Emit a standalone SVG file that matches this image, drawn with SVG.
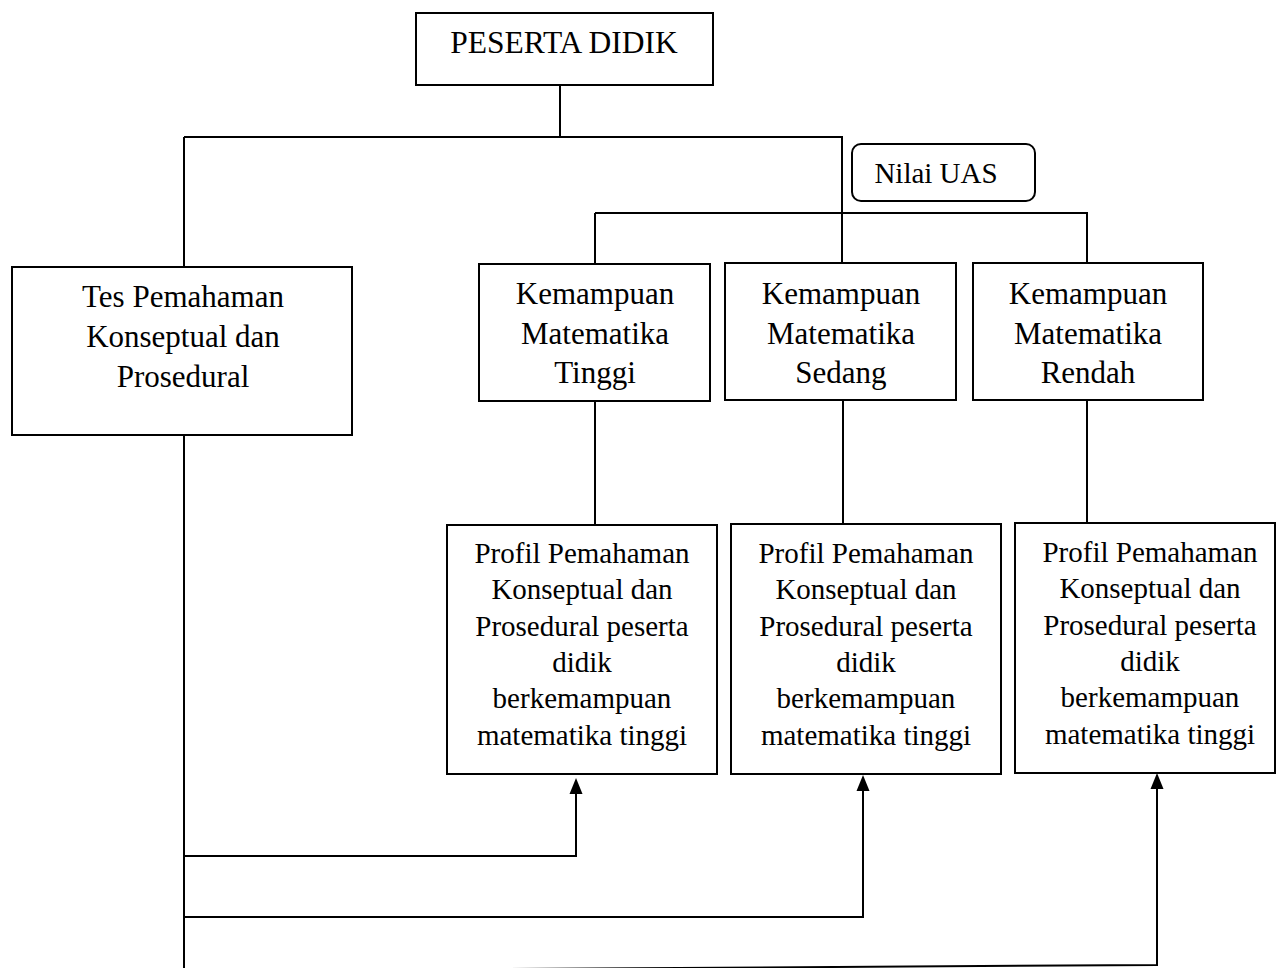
<svg xmlns="http://www.w3.org/2000/svg" width="1276" height="968" viewBox="0 0 1276 968">
<defs>
<style>
.box{fill:#fff;stroke:#000;stroke-width:2}
.ln{fill:none;stroke:#000;stroke-width:2}
text{font-family:"Liberation Serif","Times New Roman",serif;fill:#000;text-anchor:middle}
.t1{font-size:31px}
.t2{font-size:29px}
</style>
<marker id="ah" markerUnits="userSpaceOnUse" markerWidth="16" markerHeight="14" refX="0" refY="6.5" orient="auto" viewBox="0 0 16 13">
<path d="M0,0 L16,6.5 L0,13 z" fill="#000"/>
</marker>
</defs>
<rect width="1276" height="968" fill="#fff"/>
<g id="connectors">
<path class="ln" d="M560,85 V137"/>
<path class="ln" d="M184,137 H842 V262"/>
<path class="ln" d="M184,137 V267"/>
<path class="ln" d="M595,213 H1087 V263"/>
<path class="ln" d="M595,213 V264"/>
<path class="ln" d="M595,401 V525"/>
<path class="ln" d="M843,400 V524"/>
<path class="ln" d="M1087,400 V523"/>
<path class="ln" d="M184,435 V968"/>
<path class="ln" d="M184,856 H576 V794" marker-end="url(#ah)"/>
<path class="ln" d="M184,917 H863 V791" marker-end="url(#ah)"/>
<path class="ln" d="M184,971 L1157,965 V789" marker-end="url(#ah)"/>
</g>
<g id="peserta">
<rect class="box" x="416" y="13" width="297" height="72"/>
<text class="t1" x="564" y="53" style="font-size:31.5px">PESERTA DIDIK</text>
</g>
<g id="nilai-uas">
<rect class="box" x="852" y="144" width="183" height="57" rx="9"/>
<text class="t2" x="936" y="183">Nilai UAS</text>
</g>
<g id="tes">
<rect class="box" x="12" y="267" width="340" height="168"/>
<text class="t1" x="183" y="307">Tes Pemahaman</text>
<text class="t1" x="183" y="347">Konseptual dan</text>
<text class="t1" x="183" y="387">Prosedural</text>
</g>
<g id="km-tinggi">
<rect class="box" x="479" y="264" width="231" height="137"/>
<text class="t1" x="595" y="304">Kemampuan</text>
<text class="t1" x="595" y="344">Matematika</text>
<text class="t1" x="595" y="383">Tinggi</text>
</g>
<g id="km-sedang">
<rect class="box" x="725" y="263" width="231" height="137"/>
<text class="t1" x="841" y="304">Kemampuan</text>
<text class="t1" x="841" y="344">Matematika</text>
<text class="t1" x="841" y="383">Sedang</text>
</g>
<g id="km-rendah">
<rect class="box" x="973" y="263" width="230" height="137"/>
<text class="t1" x="1088" y="304">Kemampuan</text>
<text class="t1" x="1088" y="344">Matematika</text>
<text class="t1" x="1088" y="383">Rendah</text>
</g>
<g id="profil-tinggi">
<rect class="box" x="447" y="525" width="270" height="249"/>
<text class="t2" x="582" y="563">Profil Pemahaman</text>
<text class="t2" x="582" y="599">Konseptual dan</text>
<text class="t2" x="582" y="636">Prosedural peserta</text>
<text class="t2" x="582" y="672">didik</text>
<text class="t2" x="582" y="708">berkemampuan</text>
<text class="t2" x="582" y="745">matematika tinggi</text>
</g>
<g id="profil-sedang">
<rect class="box" x="731" y="524" width="270" height="250"/>
<text class="t2" x="866" y="563">Profil Pemahaman</text>
<text class="t2" x="866" y="599">Konseptual dan</text>
<text class="t2" x="866" y="636">Prosedural peserta</text>
<text class="t2" x="866" y="672">didik</text>
<text class="t2" x="866" y="708">berkemampuan</text>
<text class="t2" x="866" y="745">matematika tinggi</text>
</g>
<g id="profil-rendah">
<rect class="box" x="1015" y="523" width="260" height="250"/>
<text class="t2" x="1150" y="562">Profil Pemahaman</text>
<text class="t2" x="1150" y="598">Konseptual dan</text>
<text class="t2" x="1150" y="635">Prosedural peserta</text>
<text class="t2" x="1150" y="671">didik</text>
<text class="t2" x="1150" y="707">berkemampuan</text>
<text class="t2" x="1150" y="744">matematika tinggi</text>
</g>
</svg>
